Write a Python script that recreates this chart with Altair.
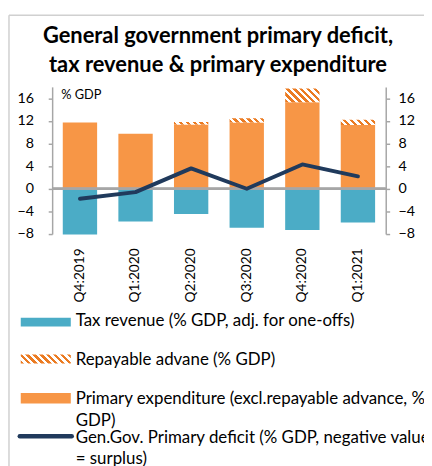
import altair as alt
import pandas as pd

# ---- data ----
CATS = ["Q4:2019", "Q1:2020", "Q2:2020", "Q3:2020", "Q4:2020", "Q1:2021"]
TAX = [-8.1, -5.8, -4.45, -6.9, -7.3, -5.95]          # tax revenue (% GDP), drawn negative
PRIM = [11.7, 9.7, 11.35, 11.7, 15.3, 11.25]           # primary expenditure excl. repayable advance
ADV = [0.0, 0.0, 0.45, 0.75, 2.4, 0.95]                # repayable advance
DEFICIT = [-1.75, -0.6, 3.6, 0.0, 4.3, 2.2]            # primary deficit
Y_TICKS = [-8, -4, 0, 4, 8, 12, 16]
Y_DOMAIN = [-8, 18]
TITLE = ["General government primary deficit,", "tax revenue & primary expenditure"]
LEGEND = [
    ["Tax revenue (% GDP, adj. for one-offs)"],
    ["Repayable advane (% GDP)"],
    ["Primary expenditure (excl.repayable advance, %", "GDP)"],
    ["Gen.Gov. Primary deficit (% GDP, negative value", "= surplus)"],
]

# ---- style ----
BLUE = "#4BACC6"
ORANGE = "#F79646"
HATCH = "#EB7B22"
NAVY = "#203A5C"
GREY = "#A6A6A6"
FONT = "Lato"
PLOT_W, PLOT_H = 340, 150
BAR_W = 35

df = pd.DataFrame({"cat": CATS, "tax": TAX, "prim": PRIM, "adv": ADV, "deficit": DEFICIT})
df["top"] = df["prim"] + df["adv"]


def hatch(w, h, period=7.0, dark=HATCH, light="#FFFFFF"):
    """Diagonal stripes (\\) at 45 degrees in pixel space, via a bounding-box gradient."""
    r = h / w
    s = (1 + r) / (1 + r * r)
    n = (w + h) / period
    stops = []
    k = 0
    while k < n:
        a = k / n
        b = min((k + 0.5) / n, 1.0)
        c = min((k + 1) / n, 1.0)
        stops += [(a, dark), (b, dark), (b, light), (c, light)]
        k += 1
    return alt.LinearGradient(
        gradient="linear",
        stops=[alt.GradientStop(offset=o, color=col) for o, col in stops],
        x1=0, y1=1, x2=s, y2=1 - s * r,
    )


yscale = alt.Scale(domain=Y_DOMAIN, nice=False, zero=False)
xenc = alt.X(
    "cat:N", sort=CATS, title=None,
    scale=alt.Scale(paddingInner=0.38, paddingOuter=0.19),
    axis=alt.Axis(labelAngle=-90, domain=False, ticks=False, tickSize=0, labelPadding=14,
                  labelFontSize=14, labelFont=FONT, labelColor="#000000"),
)

axis_common = dict(values=Y_TICKS, grid=False, domainColor=GREY, domainWidth=1.5,
                   tickColor=GREY, tickWidth=1.5, tickSize=4, labelFontSize=14.5,
                   labelFont=FONT, labelColor="#000000")
left_axis = alt.Axis(orient="left", labelPadding=15, title="% GDP", titleAngle=0,
                     titleX=8.7, titleY=2, titleAlign="left", titleBaseline="top",
                     titleFontWeight="normal", titleFontSize=13, titleFont=FONT,
                     titleColor="#000000", **axis_common)
right_axis = alt.Axis(orient="right", labelPadding=8.5, title=None, **axis_common)

base = alt.Chart(df)

tax = base.mark_bar(color=BLUE, size=BAR_W).encode(
    x=xenc, y=alt.Y("tax:Q", scale=yscale, axis=left_axis), y2=alt.datum(0))
prim = base.mark_bar(color=ORANGE, size=BAR_W).encode(
    x=xenc, y=alt.Y("prim:Q", scale=yscale, axis=None), y2=alt.datum(0))

px_per_unit = PLOT_H / (Y_DOMAIN[1] - Y_DOMAIN[0])
hatch_layers = []
for c, a in zip(CATS, ADV):
    if a > 0:
        hatch_layers.append(
            base.transform_filter(alt.datum.cat == c)
            .mark_bar(color=hatch(BAR_W, a * px_per_unit), size=BAR_W)
            .encode(x=xenc, y=alt.Y("top:Q", scale=yscale, axis=None), y2="prim:Q")
        )

zero = base.mark_rule(color=GREY, strokeWidth=2).encode(
    y=alt.datum(0, scale=yscale, axis=None))

line = base.mark_line(color=NAVY, strokeWidth=4, strokeCap="round", strokeJoin="round").encode(
    x=xenc, y=alt.Y("deficit:Q", scale=yscale, axis=right_axis))

one = alt.Data(values=[{}])

# ---- title ----
titles = []
for t, yb in zip(TITLE, [-45, -15]):
    titles.append(alt.Chart(one).mark_text(
        align="center", baseline="alphabetic", font=FONT, fontSize=22.3, fontWeight="bold",
        color="#000000").encode(x=alt.value(169), y=alt.value(yb), text=alt.value(t)))

# ---- hand-made legend below the plot ----
sym_x, sym_x2, txt_x = -32, 19, 24
leg = []
leg.append(alt.Chart(one).mark_rect(color=BLUE).encode(
    x=alt.value(sym_x), x2=alt.value(sym_x2), y=alt.value(235.3), y2=alt.value(244.3)))
leg.append(alt.Chart(one).mark_rect(color=hatch(sym_x2 - sym_x, 9.3)).encode(
    x=alt.value(sym_x), x2=alt.value(sym_x2), y=alt.value(272.7), y2=alt.value(282)))
leg.append(alt.Chart(one).mark_rect(color=ORANGE).encode(
    x=alt.value(sym_x), x2=alt.value(sym_x2), y=alt.value(312), y2=alt.value(322.7)))
leg.append(alt.Chart(one).mark_rule(color=NAVY, strokeWidth=4.5, strokeCap="round").encode(
    x=alt.value(sym_x - 1), x2=alt.value(sym_x2 + 1), y=alt.value(356)))
for lines, yb in zip(LEGEND, [244, 283.3, 323.3, 362.7]):
    for i, ln in enumerate(lines):
        leg.append(alt.Chart(one).mark_text(
            align="left", baseline="alphabetic", font=FONT, fontSize=17.2,
            color="#000000").encode(
            x=alt.value(txt_x), y=alt.value(yb + 22 * i), text=alt.value(ln)))

# ---- frame of the original figure ----
frame = [
    alt.Chart(one).mark_rule(color="#D0D0D0", strokeWidth=1.5).encode(
        x=alt.value(-44), y=alt.value(-73), y2=alt.value(390)),
    alt.Chart(one).mark_rule(color="#D0D0D0", strokeWidth=1.5).encode(
        x=alt.value(-44), x2=alt.value(400), y=alt.value(-73)),
]

chart = alt.layer(
    *frame, *titles, tax, prim, *hatch_layers, zero, line, *leg
).resolve_axis(y="independent").properties(
    width=PLOT_W, height=PLOT_H,
    autosize=alt.AutoSizeParams(type="none"),
    padding={"left": 45, "top": 76, "right": 39, "bottom": 232},
).configure_view(stroke=None)

chart.save("out.html", embed_options={"renderer": "svg", "actions": False})
